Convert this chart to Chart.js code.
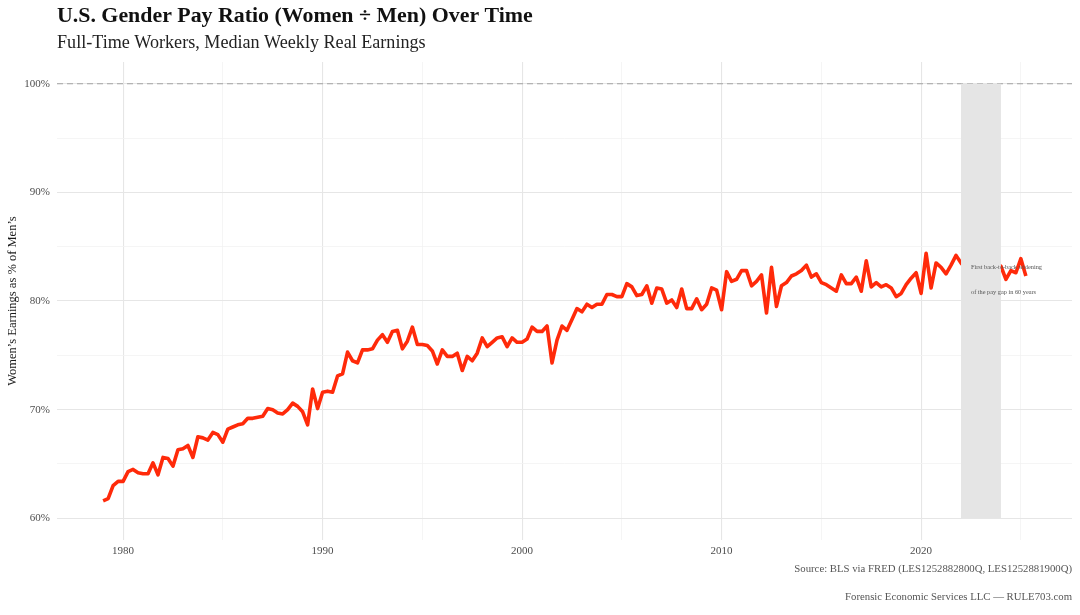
<!DOCTYPE html>
<html>
<head>
<meta charset="utf-8">
<script src="https://cdn.jsdelivr.net/npm/chart.js@4.4.1/dist/chart.umd.min.js"></script>
<style>
html,body{margin:0;padding:0;background:#ffffff;}
#wrap{width:1080px;height:615px;position:relative;}
canvas{display:block;}
</style>
</head>
<body>
<div id="wrap"><canvas id="c" width="1080" height="615" style="width:1080px;height:615px"></canvas></div>
<script>
// ---------------- DATA ----------------
const startYear = 1979;          // first quarter shown: 1979 Q1
// quarterly gender pay ratio (women / men, %)
const ratio1979to1989 = [
  61.6, 61.8, 63.0, 63.4,   // 1979
  63.4, 64.3, 64.5, 64.2,   // 1980
  64.1, 64.1, 65.1, 64.0,   // 1981
  65.6, 65.5, 64.8, 66.3,   // 1982
  66.4, 66.7, 65.6, 67.5,   // 1983
  67.4, 67.2, 67.9, 67.7,   // 1984
  67.0, 68.2, 68.4, 68.6,   // 1985
  68.7, 69.2, 69.2, 69.3,   // 1986
  69.4, 70.1, 70.0, 69.7,   // 1987
  69.6, 70.0, 70.6, 70.3,   // 1988
  69.8, 68.6, 71.9, 70.1    // 1989
];
const ratio1990to1999 = [
  71.6, 71.7, 71.6, 73.1,   // 1990
  73.3, 75.3, 74.5, 74.3,   // 1991
  75.5, 75.5, 75.6, 76.4,   // 1992
  76.9, 76.2, 77.2, 77.3,   // 1993
  75.6, 76.3, 77.6, 76.0,   // 1994
  76.0, 75.9, 75.4, 74.2,   // 1995
  75.5, 74.9, 74.9, 75.2,   // 1996
  73.6, 74.9, 74.5, 75.2,   // 1997
  76.6, 75.8, 76.2, 76.6,   // 1998
  76.7, 75.8, 76.6, 76.2    // 1999
];
const ratio2000to2009 = [
  76.2, 76.5, 77.6, 77.2,   // 2000
  77.2, 77.7, 74.3, 76.4,   // 2001
  77.7, 77.3, 78.3, 79.3,   // 2002
  79.0, 79.7, 79.4, 79.7,   // 2003
  79.7, 80.6, 80.6, 80.4,   // 2004
  80.4, 81.6, 81.3, 80.5,   // 2005
  80.6, 81.4, 79.8, 81.2,   // 2006
  81.1, 79.8, 80.1, 79.4,   // 2007
  81.1, 79.3, 79.3, 80.2,   // 2008
  79.2, 79.7, 81.2, 81.0    // 2009
];
const ratio2010to2019 = [
  79.2, 82.7, 81.8, 82.0,   // 2010
  82.8, 82.8, 81.4, 81.8,   // 2011
  82.4, 78.9, 83.1, 79.5,   // 2012
  81.4, 81.7, 82.3, 82.5,   // 2013
  82.8, 83.3, 82.2, 82.5,   // 2014
  81.7, 81.5, 81.2, 80.9,   // 2015
  82.4, 81.6, 81.6, 82.2,   // 2016
  80.9, 83.7, 81.3, 81.7,   // 2017
  81.3, 81.5, 81.2, 80.4,   // 2018
  80.7, 81.5, 82.1, 82.6    // 2019
];
const ratio2020to2025 = [
  80.7, 84.4, 81.2, 83.5,   // 2020
  83.1, 82.5, 83.3, 84.2,   // 2021
  83.5, 83.0, 82.6, 83.4,   // 2022 (behind shading)
  83.9, 83.1, 83.6, 83.4,   // 2023 (behind shading)
  83.2, 82.0, 82.8, 82.6,   // 2024
  83.9, 82.3                // 2025 Q1-Q2
];
const xTickValues = [1980, 1985, 1990, 1995, 2000, 2005, 2010, 2015, 2020, 2025];
const yTickValues = [60, 65, 70, 75, 80, 85, 90, 95, 100];
const parityLevel = 100;
const shadeFrom = 2022, shadeTo = 2024, shadeLow = 60, shadeHigh = 100;
const noteX = 2022.5;
const noteLines = ["First back-to-back widening", "of the pay gap in 60 years"];
const noteYs = [83.1, 80.8];

const titleText = "U.S. Gender Pay Ratio (Women \u00F7 Men) Over Time";
const subtitleText = "Full-Time Workers, Median Weekly Real Earnings";
const yTitleText = "Women\u2019s Earnings as % of Men\u2019s";
const sourceText = "Source: BLS via FRED (LES1252882800Q, LES1252881900Q)";
const creditText = "Forensic Economic Services LLC \u2014 RULE703.com";

// ---------------- BUILD ----------------
const ratios = [].concat(ratio1979to1989, ratio1990to1999, ratio2000to2009, ratio2010to2019, ratio2020to2025);
const quarterTimes = ratios.map((_, i) => startYear + Math.floor(i / 4) + (i % 4) / 4);
const points = ratios.map((v, i) => ({ x: quarterTimes[i], y: v }));

const SERIF = "'Liberation Serif', 'DejaVu Serif', serif";
const xMin = quarterTimes[0], xMax = quarterTimes[quarterTimes.length - 1];
const xPad = (xMax - xMin) * 0.05;

function fitSize(ctx, text, weight, target) {
  ctx.font = weight + " 100px " + SERIF;
  return 100 * target / ctx.measureText(text).width;
}

const overlayPlugin = {
  id: 'overlay',
  beforeDatasetsDraw(chart) {
    const { ctx, chartArea: a, scales: { x, y } } = chart;
    const py = y.getPixelForValue(parityLevel);
    ctx.save();
    ctx.strokeStyle = '#a3a3a3';
    ctx.lineWidth = 1.1;
    ctx.setLineDash([6, 4]);
    ctx.beginPath();
    ctx.moveTo(a.left, py);
    ctx.lineTo(a.right, py);
    ctx.stroke();
    ctx.restore();
  },
  afterDatasetsDraw(chart) {
    const { ctx, scales: { x, y } } = chart;
    const x0 = x.getPixelForValue(shadeFrom), x1 = x.getPixelForValue(shadeTo);
    const y0 = y.getPixelForValue(shadeHigh), y1 = y.getPixelForValue(shadeLow);
    ctx.save();
    ctx.fillStyle = '#e5e5e5';
    ctx.fillRect(x0, y0, x1 - x0, y1 - y0);
    const fs = fitSize(ctx, noteLines[0], 'normal', 71);
    ctx.font = fs.toFixed(2) + "px " + SERIF;
    ctx.fillStyle = '#555555';
    ctx.textAlign = 'left';
    ctx.textBaseline = 'middle';
    noteLines.forEach((t, i) => ctx.fillText(t, x.getPixelForValue(noteX), y.getPixelForValue(noteYs[i])));
    ctx.restore();
  },
  afterDraw(chart) {
    const { ctx, chartArea: a } = chart;
    ctx.save();
    ctx.textAlign = 'left';
    ctx.textBaseline = 'alphabetic';
    ctx.fillStyle = '#111111';
    let s = fitSize(ctx, titleText, 'bold', 476);
    ctx.font = "bold " + s.toFixed(2) + "px " + SERIF;
    ctx.fillText(titleText, a.left, 21.5);
    s = fitSize(ctx, subtitleText, 'normal', 369);
    ctx.font = s.toFixed(2) + "px " + SERIF;
    ctx.fillStyle = '#222222';
    ctx.fillText(subtitleText, a.left, 47.5);
    ctx.textAlign = 'right';
    ctx.textBaseline = 'middle';
    ctx.fillStyle = '#555555';
    s = fitSize(ctx, sourceText, 'normal', 278);
    ctx.font = s.toFixed(2) + "px " + SERIF;
    ctx.fillText(sourceText, a.right, 569);
    s = fitSize(ctx, creditText, 'normal', 227);
    ctx.font = s.toFixed(2) + "px " + SERIF;
    ctx.fillText(creditText, a.right, 597);
    ctx.restore();
  }
};

const gridColor = (c) => (Math.round(c.tick.value) % 10 === 0 ? '#e6e6e6' : '#f3f3f3');
const gridWidth = (c) => (Math.round(c.tick.value) % 10 === 0 ? 1.1 : 0.8);

new Chart(document.getElementById('c'), {
  type: 'line',
  data: {
    datasets: [{
      data: points,
      borderColor: '#ff2a0a',
      borderWidth: 3.6,
      pointRadius: 0,
      tension: 0,
      fill: false,
      borderJoinStyle: 'round',
      borderCapStyle: 'butt'
    }]
  },
  options: {
    responsive: false,
    animation: false,
    devicePixelRatio: window.devicePixelRatio || 1,
    layout: { padding: { top: 62, left: 0, right: 8, bottom: 0 } },
    plugins: { legend: { display: false }, tooltip: { enabled: false } },
    scales: {
      x: {
        type: 'linear',
        min: xMin - xPad,
        max: xMax + xPad,
        afterBuildTicks: (sc) => { sc.ticks = xTickValues.map(v => ({ value: v })); },
        afterFit: (sc) => { sc.height = 75; },
        border: { display: false },
        grid: { color: gridColor, lineWidth: gridWidth, drawTicks: false },
        ticks: {
          padding: 5,
          autoSkip: false,
          maxRotation: 0,
          color: '#4d4d4d',
          font: { family: SERIF, size: 11 },
          callback: (v) => (v % 10 === 0 ? String(v) : '')
        }
      },
      y: {
        type: 'linear',
        min: 58,
        max: 102,
        afterBuildTicks: (sc) => { sc.ticks = yTickValues.map(v => ({ value: v })); },
        afterFit: (sc) => { sc.width = 57; },
        border: { display: false },
        grid: { color: gridColor, lineWidth: gridWidth, drawTicks: false },
        title: {
          display: true,
          text: yTitleText,
          color: '#1a1a1a',
          font: { family: SERIF, size: 12.5 },
          padding: { top: 5, bottom: 0 }
        },
        ticks: {
          padding: 7,
          color: '#4d4d4d',
          font: { family: SERIF, size: 11 },
          callback: (v) => (v % 10 === 0 ? v + '%' : '')
        }
      }
    }
  },
  plugins: [overlayPlugin]
});
</script>
</body>
</html>
